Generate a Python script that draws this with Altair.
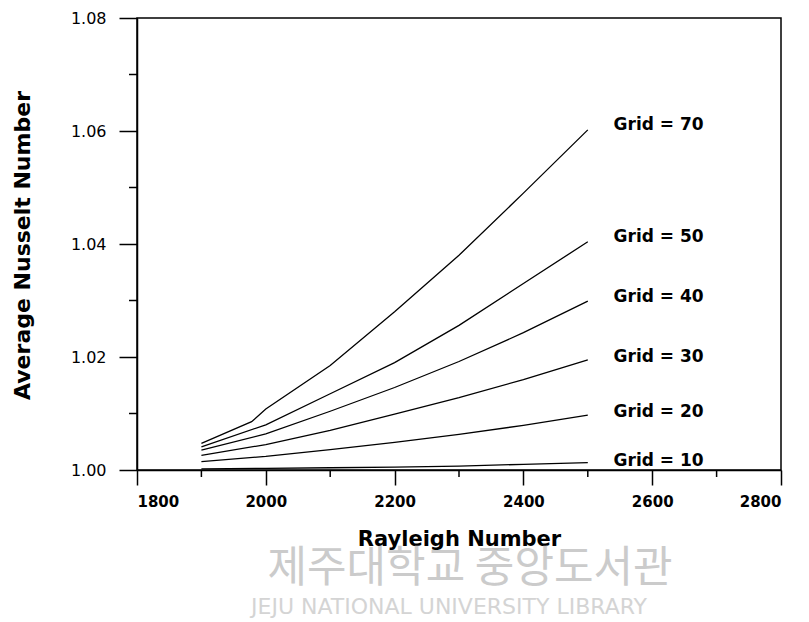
import altair as alt
import pandas as pd

# Rayleigh numbers at which the curves were sampled
ra = [1900, 2000, 2100, 2200, 2300, 2400, 2500]
ra70 = [1900, 1978, 2000, 2100, 2200, 2300, 2400, 2500]

# Average Nusselt number for each grid
nu70 = [1.0047, 1.00855, 1.0108, 1.0185, 1.0280, 1.0380, 1.0490, 1.0602]
nu50 = [1.0041, 1.0080, 1.0135, 1.0190, 1.0256, 1.0330, 1.0404]
nu40 = [1.0035, 1.0064, 1.0104, 1.0146, 1.0192, 1.0243, 1.0299]
nu30 = [1.0026, 1.0045, 1.0070, 1.0099, 1.0128, 1.0160, 1.0195]
nu20 = [1.0015, 1.0024, 1.0036, 1.0049, 1.0063, 1.0079, 1.0097]
nu10 = [1.0002, 1.0003, 1.0004, 1.0005, 1.0007, 1.0010, 1.0013]

grids = ["Grid = 70", "Grid = 50", "Grid = 40", "Grid = 30", "Grid = 20", "Grid = 10"]
label_ra = 2540
label_nu = [1.0611, 1.0412, 1.0306, 1.0200, 1.0103, 1.0016]

x_major = [1800, 2000, 2200, 2400, 2600, 2800]
x_minor = [1900, 2100, 2300, 2500, 2700]
y_major = [1.00, 1.02, 1.04, 1.06, 1.08]
y_minor = [1.01, 1.03, 1.05, 1.07]

watermark_ko = "제주대학교 중앙도서관"
watermark_en = "JEJU NATIONAL UNIVERSITY LIBRARY"

rows = []
for g, xs, ys in zip(grids, [ra70, ra, ra, ra, ra, ra], [nu70, nu50, nu40, nu30, nu20, nu10]):
    for x, y in zip(xs, ys):
        rows.append({"grid": g, "ra": x, "nu": y})
df = pd.DataFrame(rows)
labels = pd.DataFrame({"grid": grids, "ra": [label_ra] * len(grids), "nu": label_nu})

W, H = 644, 452
FONT = "DejaVu Sans"

xscale = alt.Scale(domain=[1800, 2800], nice=False, zero=False)
yscale = alt.Scale(domain=[1.00, 1.08], nice=False, zero=False)

xaxis = alt.Axis(values=x_major, format="d", title="Rayleigh Number", tickSize=15,
                 labelPadding=9, grid=False, titleY=69, titleBaseline="middle",
                 titleFontSize=21, titleFont=FONT, titleFontWeight="bold",
                 labelFont=FONT, labelFontSize=15, labelFontWeight="bold",
                 domainColor="black", tickColor="black", labelColor="black",
                 titleColor="black", domainWidth=1.5, tickWidth=1.5)
yaxis = alt.Axis(values=y_major, format=".2f", title="Average Nusselt Number",
                 tickSize=18, labelPadding=13, grid=False, titleX=-115, titleY=H / 2 + 1,
                 titleAlign="center", titleBaseline="middle",
                 titleFontSize=22, titleFont=FONT, titleFontWeight="bold",
                 labelFont=FONT, labelFontSize=16, labelFontWeight="normal",
                 domainColor="black", tickColor="black", labelColor="black",
                 titleColor="black", domainWidth=1.5, tickWidth=1.5)

lines = alt.Chart(df).mark_line(color="black", strokeWidth=1.3).encode(
    x=alt.X("ra:Q", scale=xscale, axis=xaxis),
    y=alt.Y("nu:Q", scale=yscale, axis=yaxis),
    detail="grid:N",
    order="ra:Q",
)

texts = alt.Chart(labels).mark_text(align="left", baseline="middle", font=FONT,
                                    fontSize=17, fontWeight="bold", color="black").encode(
    x=alt.X("ra:Q", scale=xscale),
    y=alt.Y("nu:Q", scale=yscale),
    text="grid:N",
)

xminor = alt.Chart(pd.DataFrame({"v": x_minor})).mark_rule(
    color="black", strokeWidth=1.5, clip=False).encode(
    x=alt.X("v:Q", scale=xscale),
    y=alt.value(H),
    y2=alt.value(H + 7),
)
yminor = alt.Chart(pd.DataFrame({"v": y_minor})).mark_rule(
    color="black", strokeWidth=1.5, clip=False).encode(
    y=alt.Y("v:Q", scale=yscale),
    x=alt.value(0),
    x2=alt.value(-8),
)

wm_ko = alt.Chart(pd.DataFrame({"t": [watermark_ko]})).mark_text(
    font="Noto Sans CJK KR", fontSize=43, color="#cbcbcb", align="center",
    baseline="middle").encode(x=alt.value(333), y=alt.value(551), text="t:N")
wm_en = alt.Chart(pd.DataFrame({"t": [watermark_en]})).mark_text(
    font="DejaVu Sans", fontSize=22, color="#d4d4d4", align="center",
    baseline="middle").encode(x=alt.value(312), y=alt.value(589), text="t:N")

chart = alt.layer(wm_ko, wm_en, lines, texts, xminor, yminor).properties(
    width=W, height=H,
    autosize=alt.AutoSizeParams(type="none"),
    padding={"left": 129, "top": 10, "right": 20, "bottom": 150},
    background="white",
).configure_view(stroke="black", strokeWidth=1.5)

chart.save("out.html", embed_options={"renderer": "svg", "actions": False})
